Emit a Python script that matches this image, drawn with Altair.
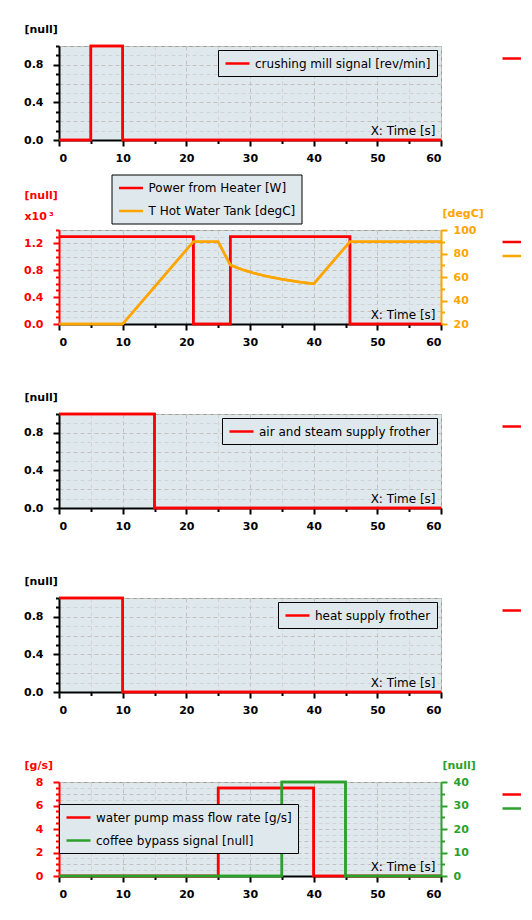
import altair as alt
import pandas as pd

# ---------------- data ----------------
T_MILL = [0, 5, 5, 10, 10, 60]
V_MILL = [0, 0, 1, 1, 0, 0]

T_POWER = [0, 21.1, 21.1, 26.9, 26.9, 45.7, 45.7, 60]
V_POWER = [1300, 1300, 0, 0, 1300, 1300, 0, 0]

T_TANK = [0, 10, 21.1, 25, 26.9, 28, 29, 30, 31, 32, 33, 34, 35, 36, 37, 38, 39, 40, 45.7, 60]
V_TANK = [20, 20, 90, 90, 70.3, 67.9, 65.9, 64.2, 62.7, 61.4, 60.2, 59.1, 58.1, 57.2, 56.4, 55.6, 54.9, 54.2, 90, 90]

T_AIR = [0, 15, 15, 60]
V_AIR = [1, 1, 0, 0]

T_HEAT = [0, 10, 10, 60]
V_HEAT = [1, 1, 0, 0]

T_PUMP = [0, 25, 25, 40, 40, 60]
V_PUMP = [0, 0, 7.5, 7.5, 0, 0]

T_BYPASS = [0, 35, 35, 45, 45, 60]
V_BYPASS = [0, 0, 40, 40, 0, 0]

X_TICKS = list(range(0, 61, 5))
Y_TICKS_UNIT = [round(i * 0.1, 1) for i in range(11)]
Y_TICKS_POWER = list(range(0, 1401, 100))
Y_TICKS_DEGC = list(range(20, 101, 10))
Y_TICKS_FLOW = [i * 0.5 for i in range(17)]
Y_TICKS_BYPASS = list(range(0, 41, 5))

RED = "#ff0000"
ORANGE = "#ffa500"
GREEN = "#2ba02b"
BG = "#dfe8ec"
FONT = "DejaVu Sans"
W, H = 382, 94


def make_df(t, v, name):
    return pd.DataFrame({"t": t, "v": v, "series": name, "s2": name + " (side)", "i": list(range(len(t)))})


def is_mult(step):
    return f"abs(datum.value/{step} - round(datum.value/{step})) < 1e-6"


x_axis = alt.Axis(
    values=X_TICKS,
    labelExpr="datum.value % 10 === 0 ? datum.label : ''",
    tickSize={"condition": {"test": "datum.value % 10 === 0", "value": 6}, "value": 3.5},
    gridColor={"condition": {"test": "datum.value % 10 === 0", "value": "#c2c2c2"}, "value": "#d0d4d6"},
    labelPadding=6,
    title="X: Time [s]",
    titleX=376,
    titleY=-5.5,
    titleAlign="right",
    titleBaseline="alphabetic",
    titleFontSize=12,
    titleFontWeight="normal",
    titleColor="#000000",
)
X_ENC = alt.X("t:Q", scale=alt.Scale(domain=[0, 60], nice=False, zero=False), axis=x_axis)


def y_axis(orient, values, label_step, grid_step, fmt, title, color, title_x, title_y, grid=True, line_h=None):
    kw = dict(
        orient=orient,
        values=values,
        labelExpr=f"{is_mult(label_step)} ? {fmt} : ''",
        tickSize={"condition": {"test": is_mult(label_step), "value": 6}, "value": 3.5},
        grid=grid,
        gridColor={"condition": {"test": is_mult(grid_step), "value": "#c2c2c2"}, "value": "#d0d4d6"},
        labelPadding=10 if orient == "left" else 6,
        labelColor=color,
        tickColor=color,
        domainColor=color,
        title=title,
        titleColor=color,
        titleAngle=0,
        titleAlign="left",
        titleBaseline="alphabetic",
        titleX=title_x,
        titleY=title_y,
    )
    if line_h is not None:
        kw["titleLineHeight"] = line_h
    return alt.Axis(**kw)


LEG_SYMBOL = "M-1,0H3"


def in_legend(**pos):
    return alt.Legend(
        title=None,
        fillColor=BG,
        strokeColor="#000000",
        padding=6,
        symbolType=LEG_SYMBOL,
        symbolSize=144,
        symbolStrokeWidth=2.5,
        labelFont=FONT,
        labelFontSize=12,
        labelColor="#000000",
        labelOffset=16,
        labelLimit=400,
        rowPadding=9,
        **pos,
    )


def side_legend(legend_y):
    return alt.Legend(
        title=None,
        orient="none",
        legendX=442,
        legendY=legend_y,
        padding=0,
        symbolType=LEG_SYMBOL,
        symbolSize=144,
        symbolStrokeWidth=2.5,
        labelExpr="''",
        labelOffset=0,
        labelFontSize=11,
        rowPadding=1,
    )


def series_layer(df, y_enc, names, colors, c_leg, s_leg):
    base = alt.Chart(df)
    a = base.mark_line(strokeWidth=2.5).encode(
        x=X_ENC,
        y=y_enc,
        color=alt.Color("series:N", scale=alt.Scale(domain=names, range=colors), legend=c_leg),
        order="i:Q",
    )
    b = base.mark_line(strokeWidth=2.5).encode(
        x=X_ENC,
        y=y_enc,
        stroke=alt.Stroke("s2:N", scale=alt.Scale(domain=[n + " (side)" for n in names], range=colors), legend=s_leg),
        order="i:Q",
    )
    return alt.layer(a, b)


def unit_panel(t, v, name):
    df = make_df(t, v, name)
    y = alt.Y(
        "v:Q",
        scale=alt.Scale(domain=[0, 1], nice=False, zero=False),
        axis=y_axis("left", Y_TICKS_UNIT, 0.4, 0.2, "format(datum.value, '.1f')", "[null]", "#000000", -35, -13.5),
    )
    return series_layer(df, y, [name], [RED], in_legend(orient="top-right", offset=4), side_legend(5)).properties(width=W, height=H)


# panel 1
p1 = unit_panel(T_MILL, V_MILL, "crushing mill signal [rev/min]")

# panel 2
N_POW = "Power from Heater [W]"
N_TANK = "T Hot Water Tank [degC]"
names2 = [N_POW, N_TANK]
cols2 = [RED, ORANGE]
leg2 = in_legend(orient="none", legendX=52.5, legendY=-55.5)
y_pow = alt.Y(
    "v:Q",
    scale=alt.Scale(domain=[0, 1400], nice=False, zero=False),
    axis=y_axis("left", Y_TICKS_POWER, 400, 200, "format(datum.value/1000, '.1f')",
                ["[null]", "x10\u2009\u00b3"], RED, -35, -31.5, line_h=21),
)
y_tank = alt.Y(
    "v:Q",
    scale=alt.Scale(domain=[20, 100], nice=False, zero=False),
    axis=y_axis("right", Y_TICKS_DEGC, 20, 20, "format(datum.value, 'd')", "[degC]", ORANGE, 1, -13.5, grid=False),
)
p2 = alt.layer(
    series_layer(make_df(T_POWER, V_POWER, N_POW), y_pow, names2, cols2, leg2, side_legend(4.5)),
    series_layer(make_df(T_TANK, V_TANK, N_TANK), y_tank, names2, cols2, leg2, side_legend(4.5)),
).resolve_scale(y="independent").properties(width=W, height=H)

# panels 3, 4
p3 = unit_panel(T_AIR, V_AIR, "air and steam supply frother")
p4 = unit_panel(T_HEAT, V_HEAT, "heat supply frother")

# panel 5
N_PUMP = "water pump mass flow rate [g/s]"
N_BYP = "coffee bypass signal [null]"
names5 = [N_PUMP, N_BYP]
cols5 = [RED, GREEN]
leg5 = in_legend(orient="none", legendX=0, legendY=22)
y_pump = alt.Y(
    "v:Q",
    scale=alt.Scale(domain=[0, 8], nice=False, zero=False),
    axis=y_axis("left", Y_TICKS_FLOW, 2, 1, "format(datum.value, 'd')", "[g/s]", RED, -35, -13.5),
)
y_byp = alt.Y(
    "v:Q",
    scale=alt.Scale(domain=[0, 40], nice=False, zero=False),
    axis=y_axis("right", Y_TICKS_BYPASS, 10, 10, "format(datum.value, 'd')", "[null]", GREEN, 1, -13.5, grid=False),
)
p5 = alt.layer(
    series_layer(make_df(T_PUMP, V_PUMP, N_PUMP), y_pump, names5, cols5, leg5, side_legend(5)),
    series_layer(make_df(T_BYPASS, V_BYPASS, N_BYP), y_byp, names5, cols5, leg5, side_legend(5)),
).resolve_scale(y="independent").properties(width=W, height=H)

chart = (
    alt.vconcat(p1, p2, p3, p4, p5, spacing=90, bounds="flush")
    .resolve_scale(color="independent", stroke="independent")
    .properties(padding={"left": 15, "top": 15, "right": -12, "bottom": 2})
    .configure_view(fill=BG, stroke="#9c9c8c", strokeWidth=1)
    .configure_axis(
        labelFont=FONT,
        labelFontSize=11,
        labelFontWeight="bold",
        titleFont=FONT,
        titleFontSize=11,
        titleFontWeight="bold",
        domainWidth=2,
        domainColor="#000000",
        tickWidth=2,
        tickColor="#000000",
        labelColor="#000000",
        gridDash=[4, 3],
        gridWidth=1,
    )
)

chart.save("out.html", embed_options={"renderer": "svg", "actions": False})
